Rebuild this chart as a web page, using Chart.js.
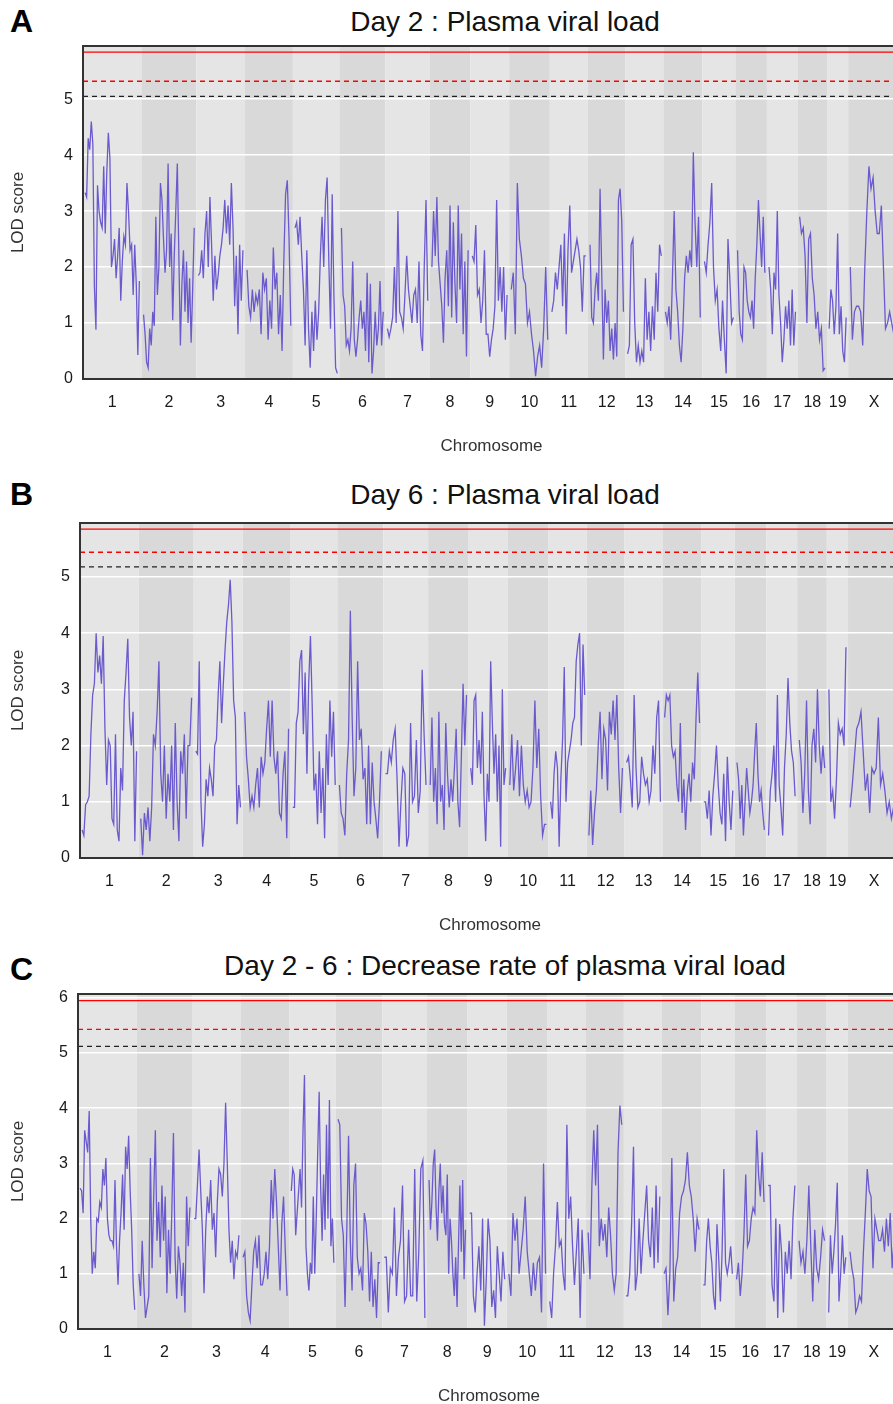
<!DOCTYPE html>
<html>
<head>
<meta charset="utf-8">
<script src="https://cdn.jsdelivr.net/npm/chart.js@4.4.0/dist/chart.umd.min.js"></script>
<style>
  body { margin: 0; background: #fff; overflow: hidden; width: 893px; height: 1404px; position: relative; }
  canvas { position: absolute; left: 0; }
  .tag { position: absolute; left: 10px; font: bold 32px 'Liberation Sans', Arial, sans-serif; line-height: 32px; color: #000; }
  .ttl { position: absolute; left: 0; width: 1010px; text-align: center; white-space: nowrap;
         font: 28px 'Liberation Sans', Arial, sans-serif; line-height: 34px; color: #111; }
</style>
</head>
<body>
<div class="tag" style="top:5px">A</div>
<div class="tag" style="top:478px">B</div>
<div class="tag" style="top:953px">C</div>
<div class="ttl" id="tA" style="top:5px"></div>
<div class="ttl" id="tB" style="top:478px"></div>
<div class="ttl" id="tC" style="top:949px"></div>
<canvas id="cA" width="1010" height="459" style="top:0px"></canvas>
<canvas id="cB" width="1010" height="461" style="top:477px"></canvas>
<canvas id="cC" width="1010" height="461" style="top:948px"></canvas>
<script>
document.addEventListener("DOMContentLoaded", function(e){

const chrNames = ["1","2","3","4","5","6","7","8","9","10","11","12","13","14","15","16","17","18","19","X"]
const chrLengths = [195,182,160,157,152,150,145,130,125,131,122,120,121,125,104,98,95,91,61,171]
const chrGap = 15

// thresholds: red solid, red dashed, black dashed
const day2Thr = [5.84, 5.32, 5.05]
const day6Thr = [5.85, 5.44, 5.18]
const rateThr = [5.95, 5.43, 5.12]

// LOD values along each chromosome
const day2Lod = [
  [3.33,3.25,4.3,4.1,4.6,4.2,1.65,0.88,3.46,3.0,2.8,2.7,3.8,2.6,3.7,4.4,3.95,2.0,2.2,2.5,1.8,2.2,2.7,1.4,2.1,2.55,2.4,3.5,3.0,2.3,2.4,1.5,2.4,1.7,0.43,1.75],
  [1.15,0.8,0.3,0.2,0.9,0.6,1.2,0.95,2.9,1.5,2.0,3.5,3.2,2.5,1.9,2.3,3.85,2.0,2.6,1.05,2.2,3.0,3.85,2.2,0.6,1.7,2.3,1.2,2.1,1.0,1.8,0.65,1.6,2.7],
  [1.85,1.9,2.3,1.8,2.6,3.0,2.0,3.25,2.4,1.4,2.2,1.6,1.85,2.2,2.4,2.7,3.2,2.6,3.1,2.4,3.5,2.7,1.3,2.2,0.8,2.4,1.4,2.3],
  [1.95,1.3,1.1,1.6,1.2,1.5,1.35,1.6,0.8,1.9,1.6,1.8,0.7,1.4,0.9,2.35,1.6,1.9,0.8,1.5,0.5,2.1,3.3,3.55,2.5,0.95],
  [2.7,2.8,2.4,2.9,2.2,1.6,0.6,2.3,0.9,0.2,1.2,0.5,1.4,0.7,1.2,2.2,2.9,2.0,3.2,3.6,2.1,0.9,3.3,1.5,0.2,0.1],
  [2.7,1.5,1.3,0.6,0.7,0.5,0.9,2.1,0.7,0.4,0.7,1.1,1.4,0.9,1.2,0.5,1.9,0.3,1.7,0.1,0.5,1.2,0.6,0.9,1.75,0.6,1.2],
  [0.9,0.75,0.9,1.1,2.0,1.0,3.0,1.2,1.1,0.9,1.5,2.2,1.6,1.3,1.0,1.5,1.6,1.0,2.1,0.8,0.5,2.0,3.2,1.4],
  [2.0,3.0,2.2,3.25,2.1,1.7,1.3,0.65,1.8,2.3,1.3,3.1,1.1,2.8,1.7,1.0,3.1,1.6,2.6,0.8,2.1,0.4,2.3],
  [2.2,2.1,2.75,1.5,1.6,1.0,1.4,2.3,0.8,0.8,0.4,0.7,0.9,1.3,3.2,1.4,2.0,1.2,2.0,0.7,1.5],
  [1.6,1.9,0.8,3.5,2.5,2.2,1.8,1.7,1.0,1.2,0.8,0.5,0.05,0.4,0.6,0.2,0.9,2.0,0.7],
  [1.2,1.4,1.9,1.6,2.0,2.4,1.3,2.6,0.8,2.3,3.1,1.9,2.1,2.3,2.5,2.3,2.0,1.2,2.2,2.2],
  [2.4,1.1,1.0,1.6,1.9,1.4,3.4,1.9,0.35,1.6,1.0,1.4,0.5,0.9,0.35,1.0,0.4,3.2,3.4,2.8,1.2],
  [0.45,0.6,2.4,2.5,1.0,0.3,0.6,0.3,0.5,0.3,1.8,0.7,1.2,0.5,1.3,0.7,1.9,1.2,2.4,2.2],
  [1.2,1.0,1.3,0.7,1.8,3.0,1.6,1.2,0.6,0.3,0.9,1.8,2.2,1.9,2.3,2.0,4.05,2.8,2.0,2.9,1.1],
  [2.1,1.9,2.4,2.8,3.5,2.0,1.4,1.6,0.9,0.5,1.4,0.7,0.1,2.5,1.8,1.0,1.1],
  [2.3,1.2,0.8,0.7,2.0,1.9,1.4,1.2,1.1,1.4,0.9,1.8,2.4,3.2,2.6,2.0,2.9,1.9],
  [2.0,1.6,0.8,1.9,1.6,3.0,1.5,1.0,0.3,0.7,1.3,0.9,1.4,0.6,1.6,0.6,1.2],
  [2.9,2.6,2.7,2.2,1.0,2.5,2.6,1.8,1.5,0.9,1.2,0.7,0.9,0.15,0.2],
  [0.9,1.6,1.4,0.8,1.3,2.6,0.8,1.3,0.5,0.3,1.1],
  [2.0,0.7,1.2,1.3,1.3,1.2,0.6,2.0,3.0,3.8,3.4,3.6,3.0,2.6,2.6,3.1,2.0,0.9,1.0,1.2,1.0,0.8,1.0,0.7]
]

const day6Lod = [
  [0.5,0.4,0.95,1.0,1.1,2.2,2.9,3.1,4.0,3.3,3.6,3.1,3.95,2.3,1.3,2.1,2.0,0.7,0.6,2.2,0.5,0.3,1.6,1.2,2.8,3.3,3.9,2.5,2.0,2.6,0.3,1.9],
  [0.7,0.05,0.8,0.5,0.9,0.3,0.9,2.2,2.0,2.6,3.5,1.5,1.0,2.0,0.7,1.5,1.0,2.0,0.5,2.4,1.0,0.3,1.9,1.5,2.2,0.7,2.0,2.0,2.85],
  [1.9,1.85,3.5,1.0,0.2,0.6,1.4,1.1,1.6,1.4,1.1,2.0,2.1,2.9,3.5,2.4,3.1,3.7,4.2,4.5,4.95,4.2,2.8,2.5,0.6,1.3,0.9],
  [2.6,1.8,1.4,0.9,1.1,0.9,1.3,1.6,0.9,1.8,1.5,1.7,2.3,2.8,1.8,2.8,1.8,1.5,1.9,0.8,0.7,1.5,1.9,0.35,2.3],
  [0.9,0.9,2.4,2.6,3.5,3.7,2.2,3.3,1.5,3.1,3.95,2.7,1.2,1.5,0.6,1.9,0.8,1.6,0.35,2.2,1.3,2.8,1.8,2.6,1.3],
  [1.3,0.8,0.7,0.4,1.5,2.1,4.4,2.5,1.1,1.6,3.5,2.1,2.3,1.4,1.6,0.6,2.0,0.6,1.7,1.0,0.7,0.35,1.0,1.9],
  [1.5,1.5,1.9,1.7,2.1,2.3,1.4,0.2,1.0,1.6,1.5,0.2,0.4,2.4,1.0,1.1,2.1,0.8,1.2,3.35,2.2,1.3],
  [1.3,2.5,1.0,1.6,0.6,2.6,1.0,1.3,0.5,2.4,1.5,0.9,1.4,1.0,1.6,2.3,1.0,0.55,1.8,3.1,2.0,2.9],
  [1.6,1.3,2.8,2.9,1.6,2.1,1.5,2.6,1.1,0.3,1.5,1.0,3.5,2.4,1.5,2.2,1.0,2.0,0.2,3.0,1.3,1.6],
  [1.3,2.2,1.2,1.6,2.1,1.1,2.0,1.3,1.0,1.2,0.9,1.0,1.6,2.8,1.6,2.3,1.1,0.4,0.6,0.6],
  [1.0,0.7,1.5,1.9,1.6,0.2,1.4,2.1,3.4,1.0,1.7,1.9,2.1,2.4,2.5,3.5,3.8,4.0,2.0,3.8,2.9],
  [0.4,1.2,0.23,0.8,1.2,2.0,2.6,1.4,2.3,2.1,1.2,2.6,2.2,2.8,2.1,2.9,1.6,0.8,1.6],
  [1.7,1.8,1.4,0.9,2.9,1.6,0.9,1.0,1.8,1.5,1.3,1.4,1.0,1.2,2.0,1.5,2.5,2.8,1.0],
  [2.5,2.9,2.8,2.9,2.0,1.8,1.9,1.3,1.0,2.4,0.8,1.4,0.5,1.2,1.5,1.0,1.7,1.4,2.5,3.3,2.4],
  [1.0,1.0,0.7,1.2,0.4,1.1,1.5,2.0,1.3,0.8,0.6,1.5,0.3,1.8,1.0,0.5,1.2],
  [1.7,1.4,0.7,1.3,0.4,1.0,1.6,1.2,0.8,1.0,1.3,1.9,2.4,1.5,1.0,1.2,0.8,0.5],
  [0.4,1.2,1.5,2.0,1.0,2.9,1.3,0.9,0.4,1.6,2.2,3.2,2.4,1.9,1.7,1.1],
  [2.1,1.7,0.8,1.5,2.8,1.2,0.6,2.0,2.3,1.7,3.0,2.0,1.5,2.0,1.6],
  [3.0,1.0,1.2,0.7,1.4,2.4,2.2,2.3,2.0,3.75],
  [0.9,1.3,1.8,2.3,2.4,2.6,1.9,1.2,1.5,0.8,1.6,1.5,1.6,2.5,1.3,1.5,1.2,0.8,1.0,0.7,0.9,0.6,0.8]
]

const rateLod = [
  [2.55,2.5,2.1,3.6,3.4,3.2,3.95,2.0,1.0,1.4,1.1,2.0,1.95,2.3,2.2,2.9,2.6,3.1,2.0,1.7,1.6,1.6,1.5,2.7,1.5,0.8,1.6,2.1,2.8,1.8,3.3,2.9,3.5,2.5,1.8,0.8,0.35],
  [1.0,0.6,1.6,0.8,0.2,0.4,0.6,3.1,1.1,2.4,3.6,1.6,2.3,1.3,2.6,1.6,2.4,0.65,1.8,1.0,2.1,3.55,1.3,0.55,1.5,1.2,0.6,1.2,0.3,2.4,1.5,2.2],
  [2.0,2.0,2.6,3.25,2.5,1.8,0.65,1.8,2.4,2.1,2.7,1.8,2.1,1.3,2.3,2.9,2.8,2.4,3.0,4.1,3.0,1.8,1.2,1.6,0.9,1.4,1.3,1.7],
  [1.3,1.4,0.6,0.3,0.15,0.8,1.4,1.6,1.1,1.7,0.8,0.8,1.0,1.4,0.9,1.5,2.7,2.0,2.9,2.3,1.5,0.7,1.9,2.4,1.4,0.6],
  [2.5,2.9,2.8,1.7,2.1,2.5,2.9,2.2,3.6,4.6,1.5,1.0,0.7,1.2,1.0,2.4,1.0,2.0,3.2,4.3,2.6,1.6,2.8,1.8,3.7,2.0,4.15,1.5,2.0,1.2],
  [3.8,3.7,2.0,1.7,0.4,1.8,3.5,1.6,0.7,2.6,3.0,1.3,1.0,1.1,0.7,2.1,1.9,1.4,0.5,1.4,0.4,0.9,0.2,1.2,1.2],
  [1.3,1.3,0.3,1.1,1.0,2.2,0.6,1.3,1.6,2.6,0.5,0.6,1.8,0.6,0.6,2.9,0.5,1.4,2.9,3.05,0.2],
  [2.7,1.8,2.3,3.0,3.25,2.2,1.6,2.5,3.0,2.1,2.6,1.9,1.7,2.8,1.0,2.0,1.6,1.0,0.6,1.3,0.4,1.5,2.6,1.4,2.7,0.9,1.8],
  [2.1,2.1,0.6,0.3,1.0,1.5,0.7,2.0,0.06,0.9,2.0,1.6,0.4,0.7,0.2,1.5,1.0,0.5,1.4,0.9],
  [1.0,0.6,2.1,1.6,2.0,1.0,1.4,1.8,2.4,1.4,1.0,0.6,1.2,0.7,1.2,1.3,0.3,3.0,1.0],
  [0.5,0.2,1.0,1.5,2.3,1.5,1.6,1.0,0.7,3.7,2.0,2.4,1.5,0.8,1.4,2.0,0.2,1.8,1.0],
  [1.75,0.9,2.6,3.6,2.6,3.7,1.5,2.0,1.6,1.9,1.3,2.2,1.7,1.0,0.7,1.0,3.2,4.05,3.7],
  [0.6,0.6,1.0,1.9,3.3,0.7,1.0,2.0,1.0,1.6,2.1,2.6,1.6,1.3,2.2,1.1,2.6,1.2,2.4],
  [1.0,1.1,0.25,1.0,3.1,0.5,1.1,1.3,2.1,2.4,2.5,2.7,3.2,2.6,2.4,2.0,1.4,2.0,1.8],
  [0.8,0.8,1.6,2.0,1.5,1.2,0.6,0.35,1.9,1.3,0.5,1.4,2.9,1.2,1.0,1.2,1.5,1.0],
  [0.9,1.2,0.6,1.0,1.7,2.8,1.5,1.6,2.0,2.2,2.1,3.6,2.8,2.4,3.2,2.3],
  [2.6,2.6,0.8,0.5,2.0,0.2,1.9,1.4,0.3,1.4,1.0,1.6,0.9,2.0,2.6],
  [1.6,1.2,1.4,1.0,1.6,2.6,1.5,0.5,1.8,1.1,0.9,1.3,1.8,1.6],
  [0.3,1.7,1.0,1.4,1.9,2.65,0.5,1.0,1.7,1.0,1.3],
  [1.4,1.1,0.9,0.3,0.4,0.6,0.5,1.4,2.1,2.9,2.5,2.4,1.1,2.0,1.8,1.6,1.6,1.8,1.4,2.0,1.5,2.1,1.1,1.6,2.0,1.9]
]

Chart.defaults.font.family = "'Liberation Sans', Arial, sans-serif"

// chromosome band starts (genome units incl. gaps)
let starts = []
let acc = 0
chrLengths.forEach(len => { starts.push(acc); acc += len + chrGap })
const total = acc
const centers = starts.map((s, i) => s + (chrLengths[i] + chrGap) / 2)

function traceData(lod){
    let pts = []
    lod.forEach((vals, i) => {
        let s = starts[i] + chrGap / 2
        let len = chrLengths[i]
        vals.forEach((v, j) => pts.push({x: s + len * j / (vals.length - 1), y: v}))
        pts.push({x: s + len, y: null})
    })
    return pts
}

function hLine(v){
    return [{x: 0, y: v}, {x: total, y: v}]
}

const bandPlugin = {
    id: 'bands',
    beforeDraw(chart){
        const {ctx, chartArea: a, scales: {x}} = chart
        ctx.save()
        starts.forEach((s, i) => {
            let x0 = x.getPixelForValue(s)
            let x1 = x.getPixelForValue(s + chrLengths[i] + chrGap)
            ctx.fillStyle = i % 2 ? '#d9d9d9' : '#e5e5e5'
            ctx.fillRect(x0, a.top, x1 - x0, a.bottom - a.top)
        })
        ctx.restore()
    },
    afterDraw(chart){
        const {ctx, chartArea: a} = chart
        ctx.save()
        ctx.strokeStyle = '#333'
        ctx.lineWidth = 2
        ctx.strokeRect(a.left, a.top, a.right - a.left, a.bottom - a.top)
        ctx.restore()
    }
}

const panels = [
    {id: 'cA', tid: 'tA', title: 'Day 2 : Plasma viral load', lod: day2Lod, thr: day2Thr, ymax: 5.95, left: 83},
    {id: 'cB', tid: 'tB', title: 'Day 6 : Plasma viral load', lod: day6Lod, thr: day6Thr, ymax: 5.96, left: 80},
    {id: 'cC', tid: 'tC', title: 'Day 2 - 6 : Decrease rate of plasma viral load', lod: rateLod, thr: rateThr, ymax: 6.07, left: 78}
]

panels.forEach(p => {
    document.getElementById(p.tid).textContent = p.title
    let ctx = document.getElementById(p.id).getContext("2d")
    new Chart(ctx, {
        type: 'line',
        data: {
            datasets: [
                {data: traceData(p.lod), borderColor: '#6a5acd', borderWidth: 1.3, pointRadius: 0, spanGaps: false},
                {data: hLine(p.thr[0]), borderColor: '#ff0000', borderWidth: 1.3, pointRadius: 0},
                {data: hLine(p.thr[1]), borderColor: '#ff0000', borderWidth: 1.3, borderDash: [5, 4], pointRadius: 0},
                {data: hLine(p.thr[2]), borderColor: '#222222', borderWidth: 1.3, borderDash: [5, 4], pointRadius: 0}
            ]
        },
        options: {
            responsive: false,
            animation: false,
            layout: {padding: {top: 46, left: 0, right: 110, bottom: 0}},
            plugins: {
                legend: {display: false},
                tooltip: {enabled: false},
                title: {display: false}
            },
            scales: {
                x: {
                    type: 'linear', min: 0, max: total,
                    afterBuildTicks: s => { s.ticks = centers.map(v => ({value: v})) },
                    afterFit: s => { s.height = 80 },
                    grid: {display: false, drawTicks: false},
                    border: {display: false},
                    ticks: {autoSkip: false, maxRotation: 0, padding: 14, color: '#1a1a1a', font: {size: 16},
                        callback: (v, i) => chrNames[i]},
                    title: {display: true, text: 'Chromosome', color: '#333', font: {size: 17}, padding: {top: 0, bottom: 2}}
                },
                y: {
                    min: 0, max: p.ymax,
                    afterBuildTicks: s => {
                        let t = []
                        for (let v = 0; v <= p.ymax; v++) t.push({value: v})
                        s.ticks = t
                    },
                    afterFit: s => { s.width = p.left },
                    grid: {color: '#ffffff', lineWidth: 1.5, drawTicks: false},
                    border: {display: false},
                    ticks: {padding: 10, color: '#1a1a1a', font: {size: 16}},
                    title: {display: true, text: 'LOD score', color: '#333', font: {size: 17}, padding: {top: 8, bottom: 0}}
                }
            }
        },
        plugins: [bandPlugin]
    })
})

})
</script>
</body>
</html>
